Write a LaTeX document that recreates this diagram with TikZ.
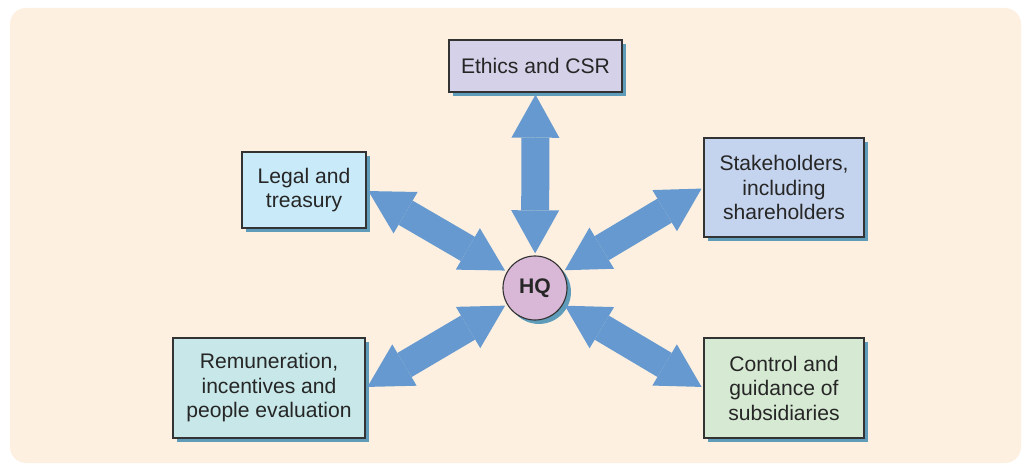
\documentclass[tikz,border=0pt]{standalone}
\usepackage{fontspec}
\setmainfont{Liberation Sans}
\usepackage{xcolor}
\usetikzlibrary{positioning,shadows,arrows.meta}

\definecolor{bgcream}{HTML}{FDF0E1}
\definecolor{arrowblue}{HTML}{6699CF}
\definecolor{shadowblue}{HTML}{5E9CBA}
\definecolor{ethicsfill}{HTML}{D4D1E8}
\definecolor{legalfill}{HTML}{C9EBF9}
\definecolor{stakefill}{HTML}{C5D4EE}
\definecolor{remfill}{HTML}{C7E7E8}
\definecolor{ctrlfill}{HTML}{D6EAD3}
\definecolor{hqfill}{HTML}{D9B7D6}

\begin{document}
\begin{tikzpicture}[x=0.025cm,y=-0.025cm,
  every node/.style={font=\fontsize{15}{17.4}\selectfont, text=black!85},
  unit/.style={draw=black!80, line width=0.8pt, inner sep=0pt, align=center,
    drop shadow={shadow xshift=2.8pt, shadow yshift=-2.8pt, fill=shadowblue, opacity=1}},
  fatarrow/.style={draw=arrowblue, line width=19.9pt,
    {Triangle[length=30.6pt,width=34.1pt,line width=0pt]}-{Triangle[length=30.6pt,width=34.1pt,line width=0pt]},
    shorten <=1.5pt, shorten >=1.5pt,
    % shaft drawn once more under the heads, so no seam shows
    preaction={draw=arrowblue, arrows=-, shorten <=20pt, shorten >=20pt}}]
\useasboundingbox (0,0) rectangle (1025,466);
\fill[bgcream, rounded corners=0.4cm] (10,8) rectangle (1021,463);

% centre and the five units round it
\node[unit, circle, fill=hqfill, minimum size=1.6cm, font=\fontsize{15}{17.4}\selectfont\bfseries] (hq) at (535,288) {HQ};
\node[unit, fill=ethicsfill, minimum width=4.325cm, minimum height=1.3cm] (ethics) at (535.5,66) {Ethics and CSR};
\node[unit, fill=legalfill, minimum width=3.1cm, minimum height=1.9cm] (legal) at (304,190) {Legal and\\treasury};
\node[unit, fill=stakefill, minimum width=4cm, minimum height=2.475cm] (stake) at (784,187.5) {Stakeholders,\\including\\shareholders};
\node[unit, fill=remfill, minimum width=4.8cm, minimum height=2.5cm] (remun) at (269,388) {Remuneration,\\incentives and\\people evaluation};
\node[unit, fill=ctrlfill, minimum width=4cm, minimum height=2.5cm] (ctrl) at (784,388) {Control and\\guidance of\\subsidiaries};

\draw[fatarrow] (ethics.south) -- (hq);
\draw[fatarrow] (legal.east) -- (hq);
\draw[fatarrow] (stake.west) -- (hq);
\draw[fatarrow] (remun.east) -- (hq);
\draw[fatarrow] (ctrl.west) -- (hq);
\end{tikzpicture}
\end{document}
